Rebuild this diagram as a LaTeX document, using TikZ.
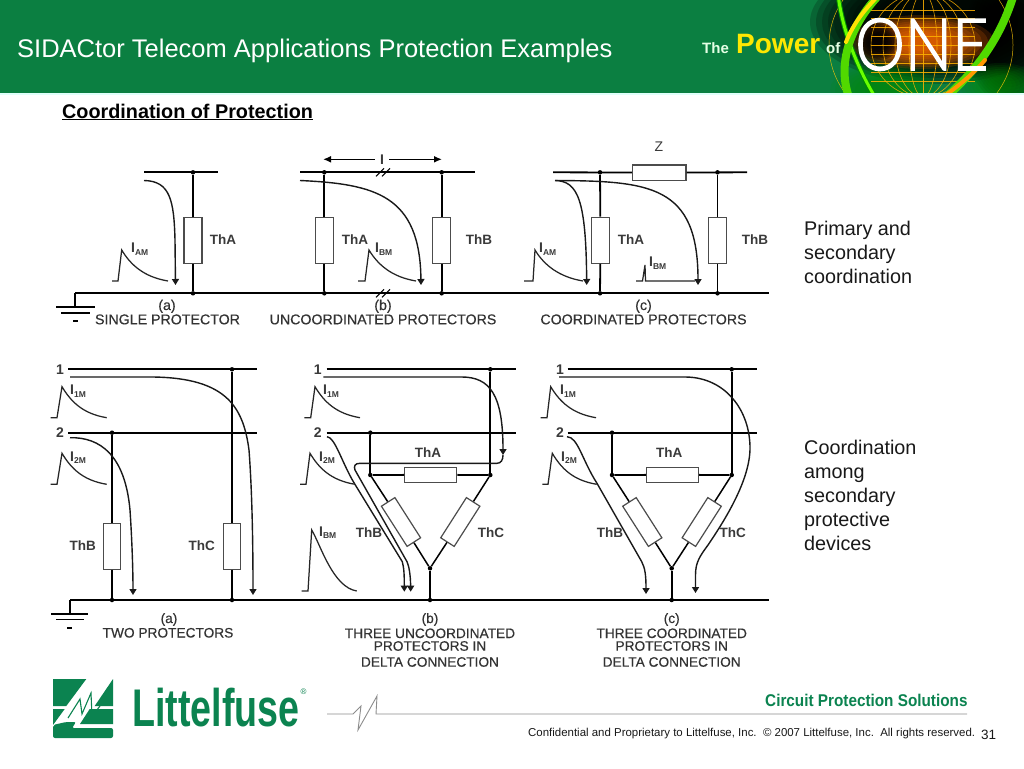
\documentclass[tikz,border=0pt]{standalone}
\usepackage{fontspec}
\setmainfont{Liberation Sans}
\newfontfamily\onefont[FakeBold=2.2]{Lato Light}
\newfontfamily\capfont[FakeBold=0.35]{Liberation Sans}
\usetikzlibrary{arrows.meta}
\newcommand\fsz[1]{\fontsize{#1}{#1}\selectfont}
\newcommand\Isub[1]{{\fsz{14}\bfseries I}{\fsz{8.5}\bfseries\raisebox{-2.5pt}{#1}}}
% pulse: x0, ybase, x1, xpeak, ypeak, xend
\newcommand\pulsewave[6]{\draw[pulse] (#1,#2) -- (#3,#2) -- (#4,#5) .. controls ({#4+9},{#5+15}) and ({#6-24},{#2-4}) .. (#6,#2);}
\newcommand\breakmark[2]{\draw[thin wire] ({#1-7},{#2+4}) -- ({#1+1},{#2-4}) ({#1-1},{#2+4}) -- ({#1+7},{#2-4});}
\definecolor{lfgreen}{HTML}{0B8350}
\definecolor{banner}{HTML}{0B7F41}
\definecolor{labgray}{HTML}{3A3A3A}
\tikzset{
  x=1pt,y=-1pt,
  wire/.style={line width=1.8pt,black},
  thin wire/.style={line width=1pt,black},
  res/.style={draw=black!70,line width=1.2pt,fill=white,rectangle,inner sep=0pt,minimum width=18pt,minimum height=46pt},
  resh/.style={draw=black!70,line width=1.2pt,fill=white,rectangle,inner sep=0pt,minimum width=52pt,minimum height=15pt},
  resd/.style={draw=black!70,line width=1.2pt,fill=white,rectangle,inner sep=0pt,minimum width=47.7pt,minimum height=16pt},
  jdot/.style={circle,fill=black,inner sep=0pt,minimum size=4.5pt},
  cur/.style={line width=1.4pt,black!90,-{Triangle[length=6pt,width=7pt]}},
  pulse/.style={line width=1.25pt,black!85},
  lab/.style={font=\fsz{13.5}\bfseries,text=labgray,inner sep=0pt},
  num/.style={font=\fsz{14}\bfseries,text=labgray,inner sep=0pt},
  isub/.style={text=labgray,inner sep=0pt,anchor=west},
  captxt/.style={font=\capfont\fsz{14.2},text=black!80,inner sep=0pt,anchor=base},
  captwo/.style={font=\capfont\fsz{13.7},text=black!80,inner sep=0pt,anchor=base},
  body/.style={font=\fsz{19.8},text=black!90,inner sep=0pt,anchor=base west},
  rib/.style={line cap=round},
}
\begin{document}
\begin{tikzpicture}
\useasboundingbox (0,0) rectangle (1024,768);
\fill[white] (0,0) rectangle (1024,768);
% ---------- banner ----------
\begin{scope}
\clip (0,0) rectangle (1024,93);
\fill[banner] (0,0) rectangle (1024,93);
\foreach \k in {0,...,11}{
  \fill[black,opacity=0.2] (935,22) ellipse [x radius={125-6*\k}, y radius={62-3*\k}];
  \fill[black,opacity=0.12] (1010,35) ellipse [x radius={45-2*\k}, y radius={70-3*\k}];
}
\foreach \k in {0,...,9}{
  \fill[orange!85!red,opacity=0.17] (922,42) ellipse [x radius={72-6*\k}, y radius={27-2*\k}];
}
\foreach \k in {0,...,7}{
  \fill[black,opacity=0.3] (878,42) ellipse [x radius={22-2*\k}, y radius={18-1.6*\k}];
  \fill[green!55!black,opacity=0.12] (885,90) ellipse [x radius={55-5*\k}, y radius={26-2*\k}];
  \fill[green!55!black,opacity=0.12] (1000,85) ellipse [x radius={40-4*\k}, y radius={22-2*\k}];
}
% globe
\begin{scope}[draw=orange!60!yellow,line width=0.6pt,opacity=0.85]
  \draw (923,45) ellipse [x radius=52, y radius=52];
  \foreach \rr in {14,28,40}{\draw (923,45) ellipse [x radius=\rr, y radius=52];}
  \draw (923,-7) -- (923,97);
  \foreach \yy in {10,18,27,36,45,54,63,72,81}{\draw (871,\yy) -- (975,\yy);}
  \draw[yellow!60!orange,line width=0.5pt] (921,45) ellipse [x radius=92, y radius=85];
\end{scope}
% ribbons
\draw[rib,line width=5pt,green!55!black] (838,-6) .. controls (842,30) and (858,70) .. (877,100);
\draw[rib,line width=3pt,lime!55!green] (838,-6) .. controls (842,30) and (858,70) .. (877,100);
\draw[rib,line width=8pt,lime!50!green!85!black] (880,-6) .. controls (850,25) and (836,65) .. (850,100);
\draw[rib,line width=4pt,yellow!85!orange] (880,-6) .. controls (866,8) and (854,22) .. (846,42);
\draw[rib,line width=8pt,lime!50!green!85!black] (1014,-6) .. controls (997,50) and (965,80) .. (943,100);
\draw[rib,line width=4pt,orange!80!yellow] (985,60) .. controls (975,72) and (960,85) .. (943,97);
% texts
\node[anchor=base west,inner sep=0pt,text=white,font=\fsz{25.5}] (title) at (17,57) {SIDACtor Telecom Applications Protection Examples};
\node[anchor=base west,inner sep=0pt,text=white!90!green,font=\fsz{15}\bfseries] (the) at (702,53) {The};
\node[anchor=base west,inner sep=0pt,text=yellow!90!orange,font=\fsz{28}\bfseries] (power) at (736,53) {Power};
\node[anchor=base west,inner sep=0pt,text=white!90!green,font=\fsz{15}\bfseries] (of) at (826,53) {of};
\node[anchor=base west,inner sep=0pt,text=white,font=\onefont\fsz{72}] (one) at (855,70) {\scalebox{0.87}[1]{ONE}};
\end{scope}
\fill[green!15!cyan!12] (0,93) rectangle (1024,94.5);
% ---------- heading ----------
\node[anchor=base west,inner sep=0pt,font=\fsz{19.8}\bfseries] (heading) at (62,118) {\underline{Coordination of Protection}};
% side texts
\node[body] (s1) at (804,235) {Primary and};
\node[body] (s2) at (804,259) {secondary};
\node[body] (s3) at (804,283) {coordination};
\node[body] (t1) at (804,454) {Coordination};
\node[body] (t2) at (804,478) {among};
\node[body] (t3) at (804,502) {secondary};
\node[body] (t4) at (804,526) {protective};
\node[body] (t5) at (804,550) {devices};
% ---------- top row ----------
\coordinate (gt) at (75,293.3);
\coordinate (bre) at (769,293.3);
\draw[wire] (gt) -- (bre);
\coordinate (g1) at (75,306.7);
\draw[wire] (gt) -- (g1);
\draw[wire] (56,306.7) -- (95,306.7);
\draw[wire] (61,312.7) -- (90,312.7);
\draw[line width=2.4pt] (73,321) -- (78,321);
% (a)
\coordinate (a1) at (144,172.3); \coordinate (a2) at (218,172.3);
\draw[wire] (a1) -- (a2);
\node[jdot] (aj1) at (193,172.3) {}; \node[jdot] (aj2) at (193,293.3) {};
\node[res] (aA) at (193,240.3) {};
\draw[wire] (aj1) -- (aA) -- (aj2);
\node[lab] (aAl) at (223,240) {ThA};
\draw[cur] (144,180.5) .. controls (170,181) and (174,200) .. (175,240) -- (175.5,285);
\pulsewave{112}{281}{118}{121.7}{250}{168}
\node[isub] (aI) at (131,249) {\Isub{AM}};
\node[captxt] (ac1) at (167,310) {(a)};
\node[captxt] (ac2) at (167.5,324.3) {SINGLE PROTECTOR};
% (b)
\coordinate (b1) at (300,172.3); \coordinate (b2) at (475,172.3);
\draw[wire] (b1) -- (b2);
\node[jdot] (bj1) at (324.3,172.3) {}; \node[jdot] (bj2) at (324.3,293.3) {};
\node[jdot] (bj3) at (441.7,172.3) {}; \node[jdot] (bj4) at (441.7,293.3) {};
\node[res] (bA) at (324.3,240.3) {};
\node[res] (bB) at (441.7,240.3) {};
\draw[wire] (bj1) -- (bA) -- (bj2);
\draw[wire] (bj3) -- (bB) -- (bj4);
\breakmark{383}{172.3}
\breakmark{383}{293.3}
\node[lab] (bAl) at (355,240) {ThA};
\node[lab] (bBl) at (479,240) {ThB};
\node[inner sep=0pt,font=\fsz{14}\bfseries,text=labgray] (bI) at (382,159.3) {I};
\coordinate (bIl) at (323,159.3); \coordinate (bIr) at (442,159.3);
\draw[line width=1.6pt,-{Latex[length=8pt,width=7pt]}] (bI.west) ++(-5,0) -- (bIl);
\draw[line width=1.6pt,-{Latex[length=8pt,width=7pt]}] (bI.east) ++(5,0) -- (bIr);
\draw[cur] (300,180.5) .. controls (375,184) and (420,195) .. (421,285);
\pulsewave{358}{281}{365}{369}{250}{416}
\node[isub] (bIm) at (375,249) {\Isub{BM}};
\node[captxt] (bc1) at (383,310) {(b)};
\node[captxt] (bc2) at (383,324.3) {UNCOORDINATED PROTECTORS};
% (c)
\coordinate (c1) at (553,172.3); \coordinate (c2) at (747,172.3);
\node[draw=black!70,line width=1.2pt,fill=white,inner sep=0pt,minimum width=53.7pt,minimum height=15.3pt] (cZ) at (659.2,172.6) {};
\draw[wire] (c1) -- (cZ) -- (c2);
\node[jdot] (cj1) at (600,172.3) {}; \node[jdot] (cj2) at (600,293.3) {};
\node[jdot] (cj3) at (717.5,172.3) {}; \node[jdot] (cj4) at (717.5,293.3) {};
\node[res] (cA) at (600.5,240.3) {};
\node[res] (cB) at (717.5,240.3) {};
\draw[wire] (cj1) -- (cA) -- (cj2);
\draw[wire] (cj3) -- (cB) -- (cj4);
\node[inner sep=0pt,font=\fsz{14},text=labgray] (cZl) at (659,147) {Z};
\node[lab] (cAl) at (631,240) {ThA};
\node[lab] (cBl) at (755,240) {ThB};
\draw[cur] (555,180.5) .. controls (578,181) and (586,200) .. (586.7,285);
\draw[cur] (555,180.5) .. controls (650,181) and (698,185) .. (698,285);
\pulsewave{524}{281}{533}{535}{250}{583}
\node[isub] (cI) at (539,249) {\Isub{AM}};
\draw[pulse] (636,281) -- (642.5,281) -- (645,265) -- (645.5,281) -- (695,281);
\node[isub] (cIb) at (649,263) {\Isub{BM}};
\node[captxt] (cc1) at (643.5,310) {(c)};
\node[captxt] (cc2) at (643.5,324.3) {COORDINATED PROTECTORS};
% ---------- bottom row ----------
\coordinate (gb) at (70,600); \coordinate (bre2) at (769,600);
\draw[wire] (gb) -- (bre2);
\coordinate (g2) at (70,614);
\draw[wire] (gb) -- (g2);
\draw[wire] (51,614) -- (88,614);
\draw[wire] (56,619.5) -- (84,619.5);
\draw[line width=1.8pt] (67,627.7) -- (72,627.7);
% (a)
\node[num] (d1) at (60,370) {1}; \node[num] (d2) at (60,433) {2};
\coordinate (dr1) at (68,369.3); \coordinate (dr1e) at (257,369.3);
\coordinate (dr2) at (68,432.7); \coordinate (dr2e) at (257,432.7);
\draw[wire] (dr1) -- (dr1e); \draw[wire] (dr2) -- (dr2e);
\node[jdot] (dj1) at (232,369.3) {}; \node[jdot] (dj2) at (232,600) {};
\node[jdot] (dj3) at (112,432.7) {}; \node[jdot] (dj4) at (112,600) {};
\node[res,minimum width=17.4pt] (dB) at (112,546.2) {};
\node[res,minimum width=17.4pt] (dC) at (232,546.2) {};
\draw[wire] (dj1) -- (dC) -- (dj2);
\draw[wire] (dj3) -- (dB) -- (dj4);
\node[lab] (dBl) at (82.7,545.7) {ThB};
\node[lab] (dCl) at (201.7,545.7) {ThC};
\draw[cur] (70,377) -- (145,377) .. controls (225,376) and (243,405) .. (249,450) .. controls (252,490) and (253,540) .. (253,595);
\draw[cur] (70,437.7) .. controls (100,437) and (125,455) .. (130,510) .. controls (132,540) and (133,570) .. (133,595);
\pulsewave{50.7}{417.7}{57}{62}{386.7}{106.7}
\pulsewave{50.7}{484.3}{57}{62}{453.3}{106.7}
\node[isub] (dI1) at (70,391) {\Isub{1M}};
\node[isub] (dI2) at (70,457.5) {\Isub{2M}};
\node[captwo] (dc1) at (169,623) {(a)};
\node[captwo] (dc2) at (168,637.5) {TWO PROTECTORS};
% (b)
\node[num] (e1) at (317.7,370) {1}; \node[num] (e2) at (317.7,433) {2};
\coordinate (er1) at (326.7,369.3); \coordinate (er1e) at (515.7,369.3);
\coordinate (er2) at (326.7,432.7); \coordinate (er2e) at (515.7,432.7);
\draw[wire] (er1) -- (er1e); \draw[wire] (er2) -- (er2e);
\node[jdot] (ej1) at (490.3,369.3) {}; \node[jdot] (ej2) at (490.3,475) {};
\node[jdot] (ej3) at (370.3,432.7) {}; \node[jdot] (ej4) at (370.3,475) {};
\node[jdot] (ej5) at (430,568.3) {}; \node[jdot] (ej6) at (430,600) {};
\draw[wire] (ej1) -- (ej2); \draw[wire] (ej3) -- (ej4); \draw[wire] (ej5) -- (ej6);
\node[resh] (eA) at (430.8,474.8) {};
\draw[wire] (ej4) -- (eA) -- (ej2);
\node[resd,rotate=-57.4] (eB) at (401,522) {};
\node[resd,rotate=57.4] (eC) at (460.3,522) {};
\draw[wire,line width=1.5pt] (ej4) -- (eB) -- (ej5);
\draw[wire,line width=1.5pt] (ej2) -- (eC) -- (ej5);
\node[lab] (eAl) at (428,452.7) {ThA};
\node[lab] (eBl) at (369,532.3) {ThB};
\node[lab] (eCl) at (491,532.3) {ThC};
\draw[cur] (323.3,377) -- (461.7,377) .. controls (490,377) and (503,395) .. (503,455);
\draw[cur] (503,455) .. controls (503,460) and (501,463.3) .. (497,463.3) -- (360,463.3) .. controls (355,463.3) and (353.5,466) .. (355,470) -- (407,561.7) .. controls (409,566) and (410.5,575) .. (410.7,591.7);
\draw[cur] (327,436.7) .. controls (335,437) and (342,463) .. (354.3,483.3) -- (402.3,561.7) .. controls (404,568) and (404.3,575) .. (404.3,591.7);
\pulsewave{304.3}{417.7}{310.7}{315}{386.7}{360}
\pulsewave{300}{484.3}{306}{310}{453.3}{355}
\pulsewave{301.7}{591}{308}{311.7}{530}{356.7}
\node[isub] (eI1) at (323,391) {\Isub{1M}};
\node[isub] (eI2) at (319,457.5) {\Isub{2M}};
\node[isub] (eI3) at (319,532.5) {\Isub{BM}};
\node[captwo] (ec1) at (430,623) {(b)};
\node[captwo] (ec2) at (430,638) {THREE UNCOORDINATED};
\node[captwo] (ec3) at (430,650.7) {PROTECTORS IN};
\node[captwo] (ec4) at (430,666.7) {DELTA CONNECTION};
% (c)
\node[num] (f1) at (560,370) {1}; \node[num] (f2) at (560,433) {2};
\coordinate (fr1) at (567.7,369.3); \coordinate (fr1e) at (756.7,369.3);
\coordinate (fr2) at (567.7,432.7); \coordinate (fr2e) at (756.7,432.7);
\draw[wire] (fr1) -- (fr1e); \draw[wire] (fr2) -- (fr2e);
\node[jdot] (fj1) at (731.7,369.3) {}; \node[jdot] (fj2) at (731.7,475) {};
\node[jdot] (fj3) at (612,432.7) {}; \node[jdot] (fj4) at (612,475) {};
\node[jdot] (fj5) at (671.7,568.3) {}; \node[jdot] (fj6) at (671.7,600) {};
\draw[wire] (fj1) -- (fj2); \draw[wire] (fj3) -- (fj4); \draw[wire] (fj5) -- (fj6);
\node[resh] (fA) at (672.5,474.8) {};
\draw[wire] (fj4) -- (fA) -- (fj2);
\node[resd,rotate=-57.4] (fB) at (642.3,522) {};
\node[resd,rotate=57.4] (fC) at (701.7,522) {};
\draw[wire,line width=1.5pt] (fj4) -- (fB) -- (fj5);
\draw[wire,line width=1.5pt] (fj2) -- (fC) -- (fj5);
\node[lab] (fAl) at (669.3,452.7) {ThA};
\node[lab] (fBl) at (610,532.3) {ThB};
\node[lab] (fCl) at (732.7,532.3) {ThC};
\draw[cur] (559,377) -- (685,377) .. controls (725,377) and (750,410) .. (750,448) .. controls (750,480) and (725,520) .. (708,545) .. controls (700,556) and (695.5,562) .. (695.5,575) -- (695.5,593);
\draw[cur] (567,436.7) .. controls (578,437) and (582,460) .. (597,483.3) -- (641.7,561.7) .. controls (645,568) and (646,575) .. (646,594);
\pulsewave{540.7}{417.7}{547}{550.7}{386.7}{596}
\pulsewave{542.3}{484.3}{548}{552.3}{453.3}{596.7}
\node[isub] (fI1) at (560,391) {\Isub{1M}};
\node[isub] (fI2) at (561,457.5) {\Isub{2M}};
\node[captwo] (fc1) at (671.7,623) {(c)};
\node[captwo] (fc2) at (671.7,638) {THREE COORDINATED};
\node[captwo] (fc3) at (671.7,650.7) {PROTECTORS IN};
\node[captwo] (fc4) at (671.7,666.7) {DELTA CONNECTION};
% ---------- footer ----------
\begin{scope}[lfgreen]
\fill (53,679) -- (86.3,679) -- (66.3,706) -- (53,706) -- cycle;
\fill (113,679) -- (113,706) -- (94.7,706) -- cycle;
\fill (53,709) -- (64.7,709) -- (53,725) -- cycle;
\fill (89.7,709) -- (113,709) -- (113,724) -- (80,724) -- cycle;
\fill[rounded corners=2pt] (53,725) -- (53,738) -- (113,738) -- (113,728) -- (72,728) -- (76,722) -- (66,722) -- cycle;
\draw[line width=1.1pt,line join=miter] (68,718) -- (80,699) -- (82,714) -- (91,693) -- (92,716) -- (100,706);
\end{scope}
\node[anchor=base west,inner sep=0pt,text=lfgreen,font=\fsz{53}\bfseries] (lf) at (132,726.7) {\scalebox{0.71}[1]{Littelfuse}};
\node[inner sep=0pt,text=lfgreen,font=\fsz{8}] (lfr) at (303.5,692) {®};
\draw[black!45,line width=0.9pt] (327,714) -- (353,714) -- (361,706) -- (358,730) -- (377,696) -- (376,714) -- (385,714) -- (967,714);
\node[anchor=base west,inner sep=0pt,text=lfgreen,font=\fsz{17}\bfseries] (cps) at (765,706.5) {\scalebox{0.9}[1]{Circuit Protection Solutions}};
\node[anchor=base west,inner sep=0pt,font=\fsz{11.45},text=black!90] (conf) at (528,736) {Confidential and Proprietary to Littelfuse, Inc.\ \ © 2007 Littelfuse, Inc.\ \ All rights reserved.};
\node[anchor=base west,inner sep=0pt,font=\fsz{13.5},text=black!90] (pg) at (981,739) {31};
\end{tikzpicture}
\end{document}
